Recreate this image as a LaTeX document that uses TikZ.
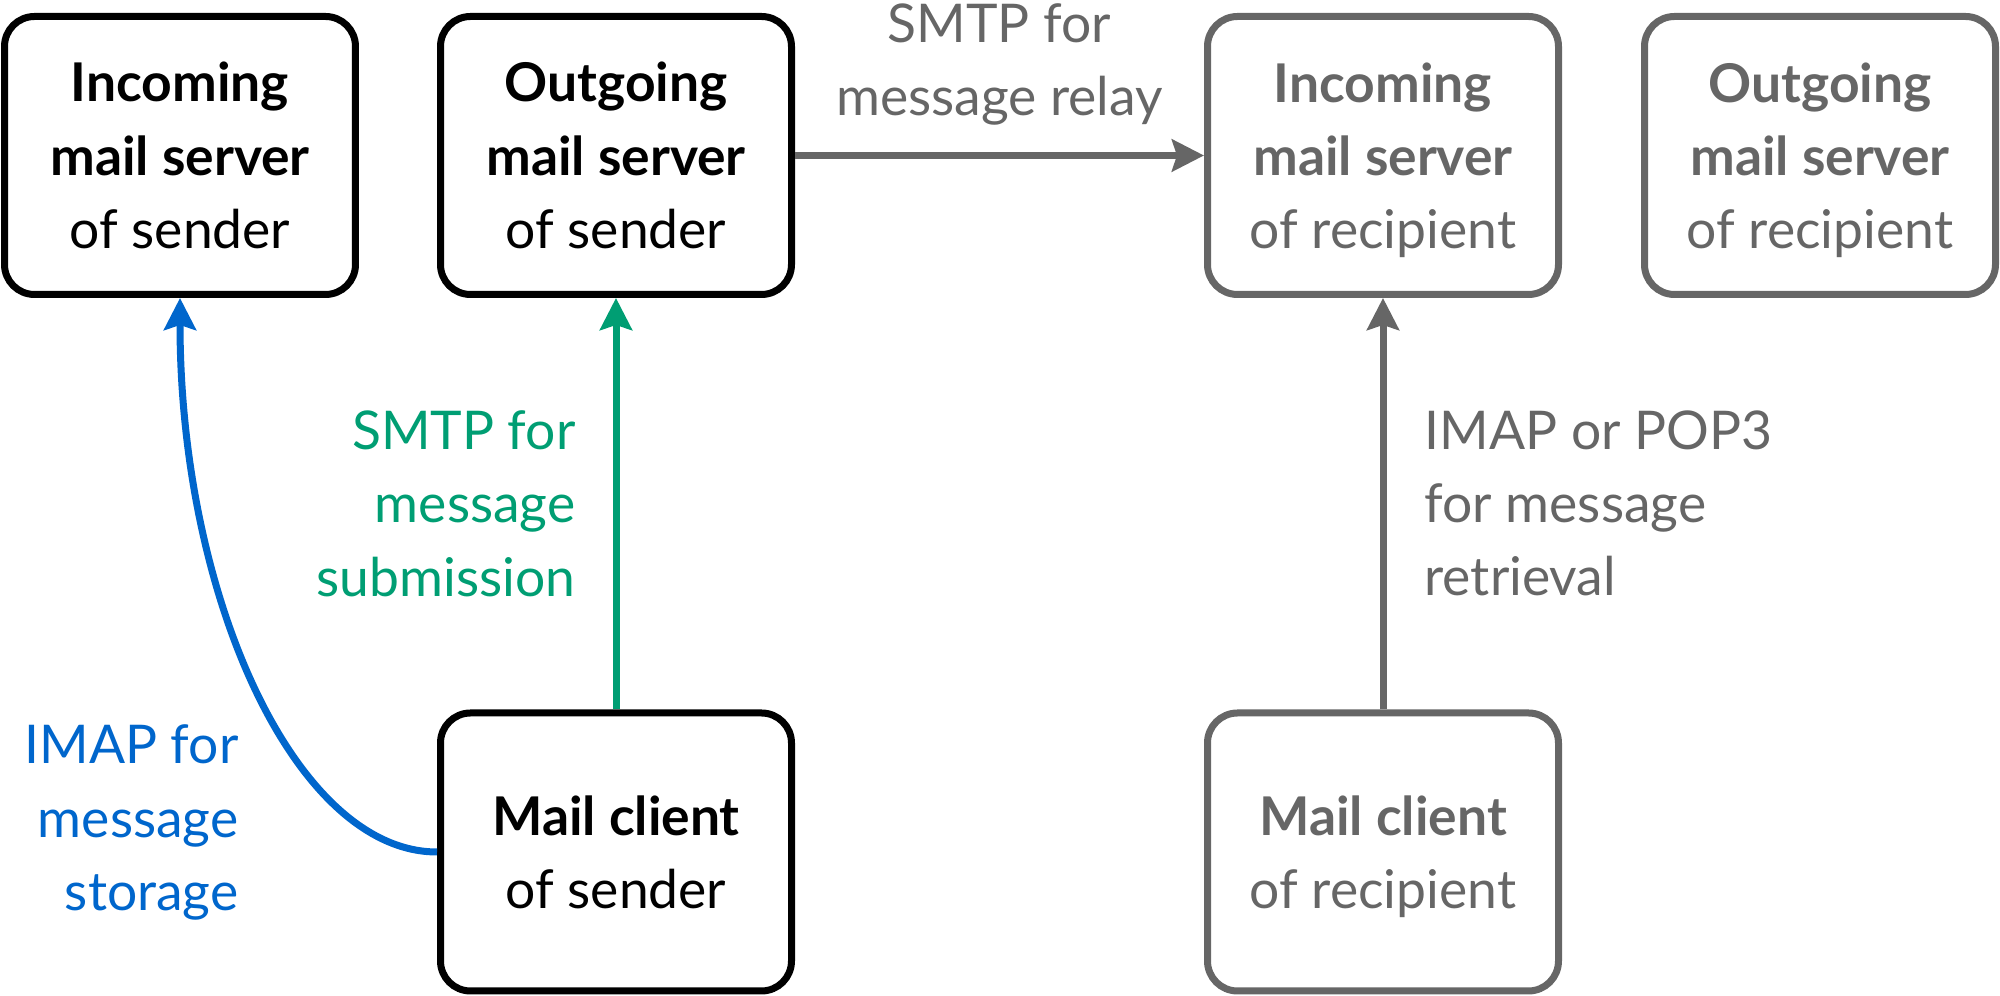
\documentclass[tikz,border=0pt]{standalone}
\usepackage{fontspec}
\setmainfont{Lato}
\usetikzlibrary{arrows.meta}
\definecolor{mailgray}{HTML}{666666}
\definecolor{mailblue}{HTML}{0066CC}
\definecolor{mailgreen}{HTML}{009E73}

\begin{document}
\begin{tikzpicture} [x=0.1mm, y=-0.1mm, line width=0.7mm, >={Stealth[length=3.2mm, width=3.2mm, inset=0.5mm]}]
	\tikzset{server/.style={draw, rounded corners=3mm, minimum width=35.1mm, minimum height=27.8mm, align=center, inner sep=0pt, font=\fontsize{15.2pt}{20.8pt}\selectfont}}
	\tikzset{remote/.style={server, draw=mailgray, text=mailgray}}
	\tikzset{proto/.style={inner sep=0pt, font=\fontsize{15.2pt}{20.8pt}\selectfont}}
	\useasboundingbox (0,0) rectangle (2000,996);

	\node[server]	(in1)		at (180,155.5)	{\textbf{Incoming}\\\textbf{mail server}\\of sender};
	\node[server]	(out1)		at (616,155.5)	{\textbf{Outgoing}\\\textbf{mail server}\\of sender};
	\node[remote]	(in2)		at (1383,155.5)	{\textbf{Incoming}\\\textbf{mail server}\\\smash{of recipient}};
	\node[remote]	(out2)		at (1820,155.5)	{\textbf{Outgoing}\\\textbf{mail server}\\\smash{of recipient}};
	\node[server]	(client1)	at (616,852)	{\textbf{Mail client}\\of sender};
	\node[remote]	(client2)	at (1383,852)	{\textbf{Mail client}\\\smash{of recipient}};
	\node[proto, mailblue, align=right, anchor=east] (storage) at (242,822.5) {IMAP for\\message\\storage};

	\path
		(out1) edge[->, mailgray]	node[proto, midway, above=2.7mm, align=center] {SMTP for\\message relay}	(in2)
		(client1) edge[->, mailgreen]	node[proto, midway, left=3.7mm, align=right] {SMTP for\\message\\submission}	(out1)
		(client2) edge[->, mailgray]	node[proto, midway, right=3.8mm, align=left] {IMAP or POP3\\for message\\retrieval}	(in2)
		;
	\draw[->, mailblue] (client1.west) .. controls +(-140,0) and +(0,302) .. (in1.south);
\end{tikzpicture}
\end{document}
